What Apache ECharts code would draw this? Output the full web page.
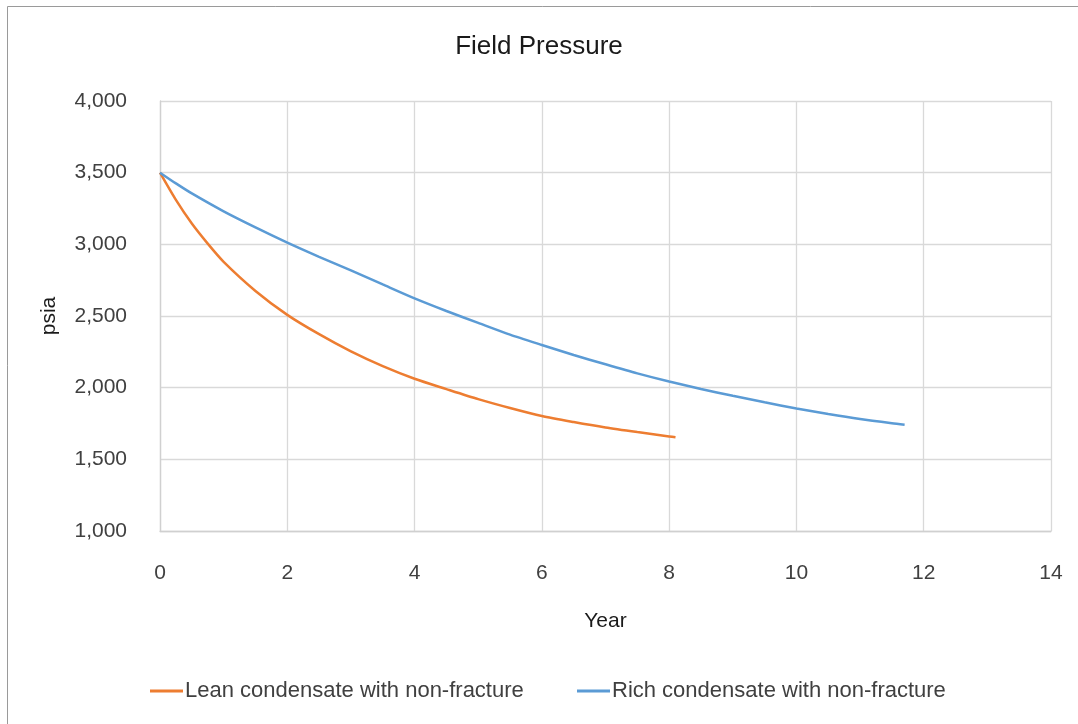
<!DOCTYPE html>
<html>
<head>
<meta charset="utf-8">
<title>Field Pressure</title>
<script src="https://cdn.jsdelivr.net/npm/echarts@6/dist/echarts.min.js"></script>
<style>
  html, body { margin: 0; padding: 0; background: #ffffff; }
  #chart { width: 1078px; height: 724px; }
</style>
</head>
<body>
<div id="chart"></div>
<script>
// Field pressure (psia) against production time (years)
const leanYears = [0, 0.25, 0.5, 0.75, 1, 1.5, 2, 2.5, 3, 3.5, 4, 4.5, 5, 5.5, 6, 6.5, 7, 7.5, 8, 8.1];
const leanPressure = [3500, 3310, 3145, 3005, 2878, 2675, 2508, 2373, 2253, 2150, 2062, 1990, 1920, 1858, 1802, 1760, 1722, 1690, 1660, 1654];

const richYears = [0, 0.25, 0.5, 1, 1.5, 2, 2.5, 3, 3.5, 4, 4.5, 5, 5.5, 6, 6.5, 7, 7.5, 8, 8.5, 9, 9.5, 10, 10.5, 11, 11.5, 11.7];
const richPressure = [3500, 3425, 3355, 3230, 3118, 3012, 2913, 2818, 2720, 2623, 2535, 2452, 2370, 2298, 2228, 2163, 2100, 2043, 1991, 1943, 1898, 1855, 1816, 1781, 1752, 1742];

const seriesNames = ['Lean condensate with non-fracture', 'Rich condensate with non-fracture'];
const seriesColors = ['#ED7D31', '#5B9BD5'];

const xTicks = { min: 0, max: 14, step: 2 };
const yTicks = { min: 1000, max: 4000, step: 500 };

const pairs = (xs, ys) => xs.map((x, i) => [x, ys[i]]);
const font = 'Liberation Sans, Arial, Helvetica, sans-serif';
const textColor = '#404040';

const chart = echarts.init(document.getElementById('chart'), null, { renderer: 'canvas' });

const legendBase = {
  top: 675,
  icon: 'rect',
  itemWidth: 33,
  itemHeight: 3,
  textStyle: { fontFamily: font, fontSize: 22, color: textColor, padding: [0, 0, 0, -3] }
};

chart.setOption({
  backgroundColor: '#ffffff',
  animation: false,
  title: {
    text: 'Field Pressure',
    left: 'center',
    top: 29,
    textStyle: { fontFamily: font, fontSize: 26, fontWeight: 'normal', color: '#1a1a1a' }
  },
  legend: [
    Object.assign({ left: 145, data: [seriesNames[0]] }, legendBase),
    Object.assign({ left: 572, data: [seriesNames[1]] }, legendBase)
  ],
  grid: { left: 160, right: 27, top: 101, bottom: 193, containLabel: false },
  xAxis: {
    type: 'value',
    min: xTicks.min,
    max: xTicks.max,
    interval: xTicks.step,
    name: 'Year',
    nameLocation: 'middle',
    nameGap: 80,
    nameTextStyle: { fontFamily: font, fontSize: 21, color: '#1a1a1a' },
    axisLine: { show: true, lineStyle: { color: '#d0d0d0', width: 1.3 } },
    axisTick: { show: false },
    axisLabel: { margin: 32, fontFamily: font, fontSize: 21, color: textColor },
    splitLine: { show: true, lineStyle: { color: '#d9d9d9', width: 1.3 } }
  },
  yAxis: {
    type: 'value',
    min: yTicks.min,
    max: yTicks.max,
    interval: yTicks.step,
    name: 'psia',
    nameLocation: 'middle',
    nameGap: 100,
    nameRotate: 90,
    nameTextStyle: { fontFamily: font, fontSize: 21, color: '#1a1a1a' },
    axisLine: { show: true, lineStyle: { color: '#d0d0d0', width: 1.3 } },
    axisTick: { show: false },
    axisLabel: {
      margin: 33,
      fontFamily: font,
      fontSize: 21,
      color: textColor,
      formatter: v => v.toLocaleString('en-US')
    },
    splitLine: { show: true, lineStyle: { color: '#d9d9d9', width: 1.3 } }
  },
  graphic: [
    { type: 'line', silent: true, shape: { x1: 7.5, y1: 6.5, x2: 1078, y2: 6.5 }, style: { stroke: '#9a9a9a', lineWidth: 1 } },
    { type: 'line', silent: true, shape: { x1: 7.5, y1: 6.5, x2: 7.5, y2: 724 }, style: { stroke: '#9a9a9a', lineWidth: 1 } }
  ],
  series: [
    {
      name: seriesNames[0],
      type: 'line',
      data: pairs(leanYears, leanPressure),
      smooth: 0.25,
      showSymbol: false,
      lineStyle: { color: seriesColors[0], width: 2.5 },
      itemStyle: { color: seriesColors[0] }
    },
    {
      name: seriesNames[1],
      type: 'line',
      data: pairs(richYears, richPressure),
      smooth: 0.25,
      showSymbol: false,
      lineStyle: { color: seriesColors[1], width: 2.5 },
      itemStyle: { color: seriesColors[1] }
    }
  ]
});
</script>
</body>
</html>
